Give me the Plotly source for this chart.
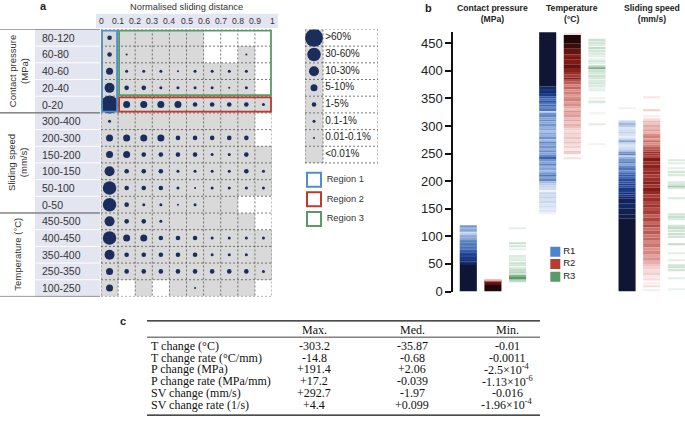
import plotly.graph_objects as go
from plotly.colors import sample_colorscale

W, H = 685, 434
def fx(p): return p / W
def fy(p): return 1 - p / H

SANS = 'Liberation Sans, Arial, sans-serif'
SERIF = 'Liberation Serif, Times New Roman, serif'
NAVY = '#1b2d5c'
GRAY = '#d9d9d9'
LAV = '#e3e5f1'
GRID = '#555555'

# ---------------- Panel a data ----------------
dist_ticks = ['0', '0.1', '0.2', '0.3', '0.4', '0.5', '0.6', '0.7', '0.8', '0.9', '1']
cp_rows = ['80-120', '60-80', '40-60', '20-40', '0-20']
ss_rows = ['300-400', '200-300', '150-200', '100-150', '50-100', '0-50']
t_rows = ['450-500', '400-450', '350-400', '250-350', '100-250']
group_labels = ['Contact pressure<br>(MPa)', 'Sliding speed<br>(mm/s)', 'Temperature (°C)']
# level: -1 no data (white), 0 <0.01% (grey), 1..7 increasing share
cp_levels = [
    [3, 0, 0, 0, 0, 0, -1, -1, -1, -1],
    [3, 1, 0, 0, 0, 0, -1, -1, 1, -1],
    [4, 2, 2, 2, 1, 2, 2, 2, 2, -1],
    [5, 3, 3, 2, 2, 2, 2, 1, 2, -1],
    [7, 4, 4, 4, 4, 3, 3, 3, 3, 2],
]
ss_levels = [
    [2, 0, 0, 0, 0, 0, 0, 0, 0, -1],
    [4, 4, 4, 4, 3, 3, 3, 3, 3, -1],
    [4, 4, 3, 3, 3, 3, 2, 2, 3, 0],
    [5, 3, 3, 3, 2, 2, 2, 2, 3, 2],
    [6, 3, 3, 3, 2, 1, 2, 2, 2, 2],
    [6, 3, 2, 2, 1, 2, 0, 0, -1, -1],
]
t_levels = [
    [5, 3, 3, 2, 0, 0, 0, 0, 0, -1],
    [6, 4, 4, 3, 3, 3, 2, 2, 2, 2],
    [5, 3, 3, 3, 3, 3, 2, 2, 2, 0],
    [4, 3, 3, 3, 3, 3, 3, 3, 3, 2],
    [4, -1, 0, -1, 0, 1, 0, 0, 0, -1],
]
share_labels = ['>60%', '30-60%', '10-30%', '5-10%', '1-5%', '0.1-1%', '0.01-0.1%', '<0.01%']
share_levels = [7, 6, 5, 4, 3, 2, 1, 0]
level_size = {1: 2.0, 2: 3.0, 3: 4.6, 4: 7.0, 5: 10.0, 6: 13.5, 7: 18.0}
region_labels = ['Region 1', 'Region 2', 'Region 3']
region_colors = ['#4f8ed0', '#c0392b', '#5a9a68']

# ---------------- Panel b data (lo, hi, intensity) ----------------
b_titles = ['Contact pressure<br>(MPa)', 'Temperature<br>(°C)', 'Sliding speed<br>(mm/s)']
b_regions = ['R1', 'R2', 'R3']
b_region_colors = ['#4d86c6', '#b83c33', '#5a9a68']
b_ticks = [0, 50, 100, 150, 200, 250, 300, 350, 400, 450]

cp_r1 = [(0, 48, 1.0), (48, 52, 0.95), (52, 55, 0.9), (55, 58, 0.93), (58, 61, 0.85), (61, 64, 0.9),
         (64, 67, 0.8), (67, 70, 0.86), (70, 73, 0.7), (73, 76, 0.76), (76, 79, 0.62), (79, 82, 0.7),
         (82, 85, 0.6), (85, 88, 0.66), (88, 91, 0.55), (91, 94, 0.62), (94, 97, 0.5), (97, 100, 0.42),
         (100, 103, 0.48), (103, 106, 0.36), (106, 108, 0.2), (108, 111, 0.4), (111, 114, 0.5),
         (114, 117, 0.42), (117, 120, 0.55)]
cp_r2 = [(0, 12, 1.0), (12, 18, 0.93), (18, 20, 0.75), (20, 21, 0.4)]
cp_r3 = [(113, 115, 0.2), (86, 88, 0.35), (82, 84, 0.3), (76, 77, 0.15), (64, 66, 0.25), (60, 63, 0.2),
         (56, 58, 0.25), (50, 53, 0.35), (46, 49, 0.3), (42, 44, 0.28), (38, 41, 0.38), (34, 36, 0.45),
         (31, 33, 0.35), (27, 30, 0.7), (22, 27, 0.85), (19, 22, 0.6), (17, 19, 0.4)]
temp_r1 = [(372, 471, 1.0), (367, 372, 0.93), (364, 367, 0.86), (360, 364, 0.91), (357, 360, 0.82),
           (354, 357, 0.86), (350, 354, 0.76), (346, 350, 0.7), (343, 346, 0.78), (339, 343, 0.65),
           (335, 339, 0.7), (331, 335, 0.6), (327, 331, 0.66), (324, 327, 0.3), (320, 324, 0.56),
           (316, 320, 0.6), (312, 316, 0.5), (308, 312, 0.58), (304, 308, 0.48), (300, 304, 0.55),
           (296, 300, 0.45), (292, 296, 0.5), (288, 292, 0.4), (284, 288, 0.5), (280, 284, 0.45),
           (276, 280, 0.56), (272, 276, 0.42), (268, 272, 0.6), (264, 268, 0.5), (260, 264, 0.55),
           (256, 260, 0.45), (252, 256, 0.58), (248, 252, 0.5), (244, 248, 0.6), (240, 244, 0.72),
           (236, 240, 0.55), (232, 236, 0.5), (228, 232, 0.62), (224, 228, 0.45), (220, 224, 0.5),
           (216, 220, 0.42), (212, 216, 0.55), (208, 212, 0.66), (204, 208, 0.5), (200, 204, 0.6),
           (196, 200, 0.42), (192, 196, 0.35), (188, 192, 0.3), (184, 188, 0.25), (180, 184, 0.1),
           (176, 180, 0.3), (172, 176, 0.25), (168, 172, 0.3), (164, 168, 0.22), (160, 164, 0.28),
           (156, 160, 0.2), (152, 156, 0.25), (148, 152, 0.18), (144, 148, 0.2), (140, 144, 0.12)]
temp_r2 = [(466, 468, 0.2), (450, 465, 1.0), (440, 450, 0.97), (430, 440, 0.92), (425, 430, 0.85),
           (420, 425, 0.9), (412, 420, 0.88), (405, 412, 0.92), (398, 405, 0.85), (393, 398, 0.8),
           (388, 393, 0.75), (384, 388, 0.85), (380, 384, 0.7), (375, 380, 0.65), (371, 375, 0.55),
           (366, 371, 0.62), (362, 366, 0.5), (358, 362, 0.55), (354, 358, 0.45), (349, 354, 0.5),
           (345, 349, 0.55), (340, 345, 0.45), (336, 340, 0.5), (332, 336, 0.42), (328, 332, 0.35),
           (324, 328, 0.48), (320, 324, 0.4), (316, 320, 0.45), (312, 316, 0.35), (308, 312, 0.42),
           (304, 308, 0.3), (300, 304, 0.38), (296, 300, 0.32), (292, 296, 0.25), (288, 292, 0.2),
           (284, 288, 0.28), (280, 284, 0.22), (276, 280, 0.3), (272, 276, 0.22), (268, 272, 0.3),
           (264, 268, 0.2), (260, 264, 0.25), (256, 260, 0.15), (252, 255, 0.3), (249, 251, 0.25),
           (241, 243, 0.18)]
temp_r3 = [(455, 458, 0.35), (450, 453, 0.3), (445, 448, 0.25), (440, 443, 0.4), (435, 438, 0.3),
           (430, 433, 0.25), (425, 428, 0.2), (421, 423, 0.15), (416, 419, 0.3), (412, 414, 0.2),
           (407, 410, 0.45), (403, 406, 0.75), (399, 402, 0.35), (394, 397, 0.3), (390, 393, 0.35),
           (385, 388, 0.3), (381, 384, 0.25), (376, 379, 0.3), (372, 375, 0.25), (368, 370, 0.15),
           (364, 366, 0.2), (350, 352, 0.12), (343, 346, 0.25), (323, 325, 0.12), (302, 305, 0.2),
           (266, 268, 0.12)]
ss_r1 = [(332, 334, 0.12), (306, 310, 0.3), (302, 306, 0.42), (298, 302, 0.35), (294, 298, 0.2),
         (290, 294, 0.25), (286, 290, 0.3), (282, 286, 0.22), (278, 282, 0.15), (274, 278, 0.3),
         (270, 274, 0.5), (266, 270, 0.3), (262, 266, 0.2), (258, 262, 0.25), (254, 258, 0.35),
         (250, 254, 0.55), (246, 250, 0.62), (244, 246, 0.3), (240, 244, 0.45), (236, 240, 0.55),
         (232, 236, 0.62), (228, 232, 0.5), (224, 228, 0.6), (220, 224, 0.66), (216, 220, 0.58),
         (212, 216, 0.7), (208, 212, 0.75), (204, 208, 0.7), (200, 204, 0.8), (196, 200, 0.78),
         (192, 196, 0.85), (188, 192, 0.8), (184, 188, 0.88), (180, 184, 0.85), (176, 180, 0.9),
         (172, 176, 0.88), (168, 172, 0.93), (160, 168, 0.95), (150, 160, 0.93), (140, 150, 0.96),
         (132, 140, 0.97), (0, 132, 1.0)]
ss_r2 = [(351, 353, 0.15), (327, 329, 0.25), (316, 318, 0.12), (312, 314, 0.2), (306, 310, 0.35),
         (302, 306, 0.3), (298, 302, 0.4), (294, 298, 0.35), (290, 294, 0.45), (286, 290, 0.38),
         (282, 286, 0.5), (278, 282, 0.55), (274, 278, 0.45), (270, 274, 0.6), (266, 270, 0.5),
         (262, 266, 0.55), (258, 262, 0.65), (254, 258, 0.7), (250, 254, 0.8), (246, 250, 0.78),
         (242, 246, 0.72), (236, 242, 0.88), (230, 236, 0.8), (224, 230, 0.85), (218, 224, 0.78),
         (212, 218, 0.82), (206, 212, 0.75), (200, 206, 0.8), (194, 200, 0.85), (188, 194, 0.78),
         (182, 188, 0.88), (176, 182, 0.82), (170, 176, 0.75), (164, 170, 0.8), (158, 164, 0.72),
         (152, 158, 0.78), (146, 152, 0.7), (140, 146, 0.75), (134, 140, 0.65), (128, 134, 0.72),
         (122, 128, 0.62), (116, 122, 0.7), (110, 116, 0.6), (104, 110, 0.66), (98, 104, 0.58),
         (92, 98, 0.62), (86, 92, 0.52), (80, 86, 0.58), (74, 80, 0.48), (68, 74, 0.52), (62, 68, 0.42),
         (56, 62, 0.48), (50, 56, 0.38), (45, 50, 0.3), (40, 45, 0.25), (35, 40, 0.2), (30, 35, 0.25),
         (25, 30, 0.15), (20, 24, 0.2), (14, 17, 0.12), (9, 11, 0.2), (2, 4, 0.12)]
ss_r3 = [(237, 239, 0.25), (231, 233, 0.2), (222, 224, 0.2), (216, 219, 0.3), (210, 213, 0.25),
         (197, 199, 0.25), (193, 196, 0.3), (189, 192, 0.55), (186, 188, 0.25), (168, 170, 0.25),
         (139, 142, 0.3), (133, 138, 0.35), (130, 132, 0.25), (118, 121, 0.3), (113, 117, 0.4),
         (109, 112, 0.3), (103, 106, 0.35), (97, 101, 0.3), (84, 86, 0.4), (68, 70, 0.2), (56, 58, 0.2),
         (47, 49, 0.3), (42, 46, 0.35), (38, 41, 0.3), (24, 26, 0.2), (3, 5, 0.15)]
b_bands = [[cp_r1, cp_r2, cp_r3], [temp_r1, temp_r2, temp_r3], [ss_r1, ss_r2, ss_r3]]

# ---------------- Panel c data ----------------
tbl_head = ['Max.', 'Med.', 'Min.']
tbl_rows = ['T change (°C)', 'T change rate (°C/mm)', 'P change (MPa)', 'P change rate (MPa/mm)',
            'SV change (mm/s)', 'SV change rate (1/s)']
tbl_max = ['-303.2', '-14.8', '+191.4', '+17.2', '+292.7', '+4.4']
tbl_med = ['-35.87', '-0.68', '+2.06', '-0.039', '-1.97', '+0.099']
tbl_min = ['-0.01', '-0.0011', '-2.5×10<sup>-4</sup>', '-1.13×10<sup>-6</sup>', '-0.016',
           '-1.96×10<sup>-4</sup>']

# ---------------- colour scales ----------------
blue_cs = [[0, '#ffffff'], [0.15, '#e8eef8'], [0.35, '#b9cbe8'], [0.55, '#7396cf'],
           [0.75, '#3159a8'], [0.9, '#15307a'], [1, '#0f1634']]
red_cs = [[0, '#ffffff'], [0.15, '#f9e6e6'], [0.35, '#ebb9b7'], [0.55, '#d27e79'],
          [0.75, '#a93b35'], [0.9, '#761614'], [1, '#210707']]
green_cs = [[0, '#ffffff'], [0.2, '#e2efe5'], [0.45, '#b9d7c0'], [0.7, '#86b893'],
            [0.9, '#4f8d5e'], [1, '#2c6a3b']]
region_cs = [blue_cs, red_cs, green_cs]

fig = go.Figure()
shapes = []
ann = []

def A(text, x, y, xref='paper', yref='paper', xanchor='center', yanchor='middle', size=10,
      color='#333', family=SANS, **kw):
    ann.append(dict(text=text, x=x, y=y, xref=xref, yref=yref, xanchor=xanchor, yanchor=yanchor,
                    showarrow=False, font=dict(size=size, color=color, family=family), **kw))

# ================= Panel a =================
all_rows = cp_rows + ss_rows + t_rows
all_levels = cp_levels + ss_levels + t_levels
n_rows = len(all_rows)
n_cols = len(dist_ticks) - 1
xc = [(i + 0.5) / n_cols for i in range(n_cols)]
yc = [r + 0.5 for r in range(n_rows)]
z = [[1 if v >= 0 else None for v in row] for row in all_levels]
fig.add_trace(go.Heatmap(x=xc, y=yc, z=z, zmin=0, zmax=1, colorscale=[[0, GRAY], [1, GRAY]],
                         showscale=False, hoverinfo='skip', xaxis='x', yaxis='y'))
dx, dy, ds = [], [], []
for r, row in enumerate(all_levels):
    for c, v in enumerate(row):
        if v >= 1:
            dx.append(xc[c]); dy.append(yc[r]); ds.append(level_size[v])
fig.add_trace(go.Scatter(x=dx, y=dy, mode='markers', hoverinfo='skip', xaxis='x', yaxis='y',
                         marker=dict(size=ds, color=NAVY, opacity=1, line=dict(width=0))))

dash = '2px,2px'
for i in range(n_cols + 1):
    shapes.append(dict(type='line', xref='x', yref='y', x0=i / n_cols, x1=i / n_cols, y0=0, y1=n_rows,
                       line=dict(color=GRID, width=0.8, dash=dash)))
for r in range(n_rows + 1):
    shapes.append(dict(type='line', xref='x', yref='y', x0=0, x1=1, y0=r, y1=r,
                       line=dict(color=GRID, width=0.8, dash=dash)))

# region boxes
ex, ey = 0.006, 0.07
ncp = len(cp_rows)
reg_boxes = [(0, 1, 0, ncp), (1, n_cols, ncp - 1, ncp), (1, n_cols, 0, ncp - 1)]
for (c0, c1, r0, r1), col in zip(reg_boxes, region_colors):
    shapes.append(dict(type='rect', xref='x', yref='y', x0=c0 / n_cols + ex, x1=c1 / n_cols - ex,
                       y0=r0 + ey, y1=r1 - ey, line=dict(color=col, width=1.8)))

# lavender backgrounds
shapes.append(dict(type='rect', xref='paper', yref='paper', x0=fx(35), x1=fx(100.5), y0=fy(302), y1=fy(29.5),
                   fillcolor=LAV, line=dict(width=0), layer='below'))
shapes.append(dict(type='rect', xref='paper', yref='paper', x0=fx(96), x1=fx(278), y0=fy(28.5), y1=fy(14),
                   fillcolor=LAV, line=dict(width=0), layer='below'))
for r in range(1, n_rows):
    shapes.append(dict(type='line', xref='paper', yref='y', x0=fx(35), x1=fx(100), y0=r, y1=r,
                       line=dict(color='white', width=1)))
group_sizes = [len(cp_rows), len(ss_rows), len(t_rows)]
bounds = [0]
for g in group_sizes:
    bounds.append(bounds[-1] + g)
for b in bounds:
    shapes.append(dict(type='line', xref='paper', yref='y', x0=0, x1=fx(100), y0=b, y1=b,
                       line=dict(color='#444', width=1)))

for i, t in enumerate(dist_ticks):
    A(t, i / n_cols, fy(21.5), xref='x', size=8.6)
for r, lab in enumerate(all_rows):
    A(lab, fx(40), r + 0.5, yref='y', xanchor='left', size=10.5)
for g, lab in enumerate(group_labels):
    A(lab, fx(18), (bounds[g] + bounds[g + 1]) / 2, yref='y', textangle=-90, size=9.5)
A('Normalised sliding distance', 0.5, fy(7), xref='x', size=9.3)
A('<b>a</b>', fx(43), fy(6), size=11, color='#222')

# ================= Legend of panel a =================
nl = len(share_labels)
for i, lev in enumerate(share_levels):
    shapes.append(dict(type='rect', xref='x2', yref='y2', x0=0, x1=1, y0=i, y1=i + 1,
                       fillcolor=GRAY, line=dict(width=0), layer='below'))
for xv in [0, 1, 4.05]:
    shapes.append(dict(type='line', xref='x2', yref='y2', x0=xv, x1=xv, y0=0, y1=nl,
                       line=dict(color=GRID, width=0.8, dash=dash)))
for i in range(nl + 1):
    shapes.append(dict(type='line', xref='x2', yref='y2', x0=0, x1=4.05, y0=i, y1=i,
                       line=dict(color=GRID, width=0.8, dash=dash)))
lx = [0.5 for lev in share_levels if lev >= 1]
ly = [i + 0.5 for i, lev in enumerate(share_levels) if lev >= 1]
ls = [level_size[lev] for lev in share_levels if lev >= 1]
fig.add_trace(go.Scatter(x=lx, y=ly, mode='markers', xaxis='x2', yaxis='y2', hoverinfo='skip',
                         marker=dict(size=ls, color=NAVY, opacity=1, line=dict(width=0))))
fig.add_trace(go.Scatter(x=[1.12] * nl, y=[i + 0.5 for i in range(nl)], mode='text', text=share_labels,
                         textposition='middle right', xaxis='x2', yaxis='y2', hoverinfo='skip',
                         textfont=dict(size=10, color='#222', family=SANS)))
reg_y = [nl + 1.0, nl + 2.18, nl + 3.36]
fig.add_trace(go.Scatter(x=[0.5] * 3, y=reg_y, mode='markers', xaxis='x2', yaxis='y2', hoverinfo='skip',
                         marker=dict(symbol='square-open', size=14, color=region_colors, opacity=1,
                                     line=dict(width=2))))
fig.add_trace(go.Scatter(x=[1.2] * 3, y=reg_y, mode='text', text=region_labels, textposition='middle right',
                         xaxis='x2', yaxis='y2', hoverinfo='skip',
                         textfont=dict(size=9.3, color='#333', family=SANS)))

# ================= Panel b =================
offsets = [-0.31, 0.0, 0.31]
bw = 0.215
for vi, var_bands in enumerate(b_bands):
    for ri, bands in enumerate(var_bands):
        cols = sample_colorscale(region_cs[ri], [b[2] for b in bands])
        fig.add_trace(go.Bar(x=[vi + offsets[ri]] * len(bands), base=[b[0] for b in bands],
                             y=[b[1] - b[0] for b in bands], width=bw, xaxis='x3', yaxis='y3',
                             marker=dict(color=cols, line=dict(width=0)), hoverinfo='skip'))
for vi, t in enumerate(b_titles):
    A('<b>' + t + '</b>', vi, fy(14), xref='x3', size=8.6, color='#222')
A('<b>b</b>', fx(428), fy(8), size=11, color='#222')
leg_y = [72, 50, 27]
fig.add_trace(go.Scatter(x=[0.786] * 3, y=leg_y, mode='markers', xaxis='x3', yaxis='y3', hoverinfo='skip',
                         marker=dict(symbol='square', size=10, color=b_region_colors, opacity=1,
                                     line=dict(width=0))))
fig.add_trace(go.Scatter(x=[0.885] * 3, y=leg_y, mode='text', text=b_regions, textposition='middle right',
                         xaxis='x3', yaxis='y3', hoverinfo='skip',
                         textfont=dict(size=9.5, color='#222', family=SANS)))

# ================= Panel c =================
tx_label = fx(149)
tx_cols = [fx(314), fx(412), fx(507)]
row_y = [352.5 + 11.95 * i for i in range(len(tbl_rows))]
for j, h in enumerate(tbl_head):
    A(h, tx_cols[j], fy(336), size=12, color='#111', family=SERIF)
for i, lab in enumerate(tbl_rows):
    A(lab, tx_label, fy(row_y[i]), xanchor='left', size=12, color='#111', family=SERIF)
    for j, vals in enumerate([tbl_max, tbl_med, tbl_min]):
        A(vals[i], tx_cols[j], fy(row_y[i]), size=12, color='#111', family=SERIF)
for yl, wl in [(327, 1.2), (343.5, 0.8), (423, 1.2)]:
    shapes.append(dict(type='line', xref='paper', yref='paper', x0=fx(147), x1=fx(540), y0=fy(yl), y1=fy(yl),
                       line=dict(color='#111', width=wl)))
A('<b>c</b>', fx(123), fy(327), size=11, color='#222')

fig.update_layout(
    width=W, autosize=True, margin=dict(l=0, r=0, t=0, b=0), paper_bgcolor='white', plot_bgcolor='white',
    showlegend=False, barmode='overlay', font=dict(family=SANS, color='#222'),
    shapes=shapes, annotations=ann,
    xaxis=dict(domain=[fx(101), fx(272)], range=[0, 1], visible=False, anchor='y'),
    yaxis=dict(domain=[fy(302), fy(30)], range=[n_rows, 0], visible=False, anchor='x'),
    xaxis2=dict(domain=[fx(305), fx(378)], range=[0, 4.05], visible=False, anchor='y2'),
    yaxis2=dict(domain=[fy(234), fy(30)], range=[12, 0], visible=False, anchor='x2'),
    xaxis3=dict(domain=[fx(453), 1], range=[-0.503, 2.42], visible=False, anchor='y3'),
    yaxis3=dict(domain=[fy(297), fy(32.8)], range=[0, 470], anchor='x3', showline=True, linewidth=1.5,
                linecolor='#111', ticks='outside', ticklen=6, tickwidth=1.5, tickcolor='#111',
                tickvals=b_ticks, showgrid=False, zeroline=False,
                tickfont=dict(size=13, color='#222', family=SANS)),
)

page_css = (
    "var s=document.createElement('style');"
    "s.innerHTML='html,body{margin:0;padding:0;overflow:hidden;}';"
    "document.head.appendChild(s);"
)
fig.write_html('out.html', config={'displayModeBar': False}, post_script=page_css,
               default_height='100vh')
